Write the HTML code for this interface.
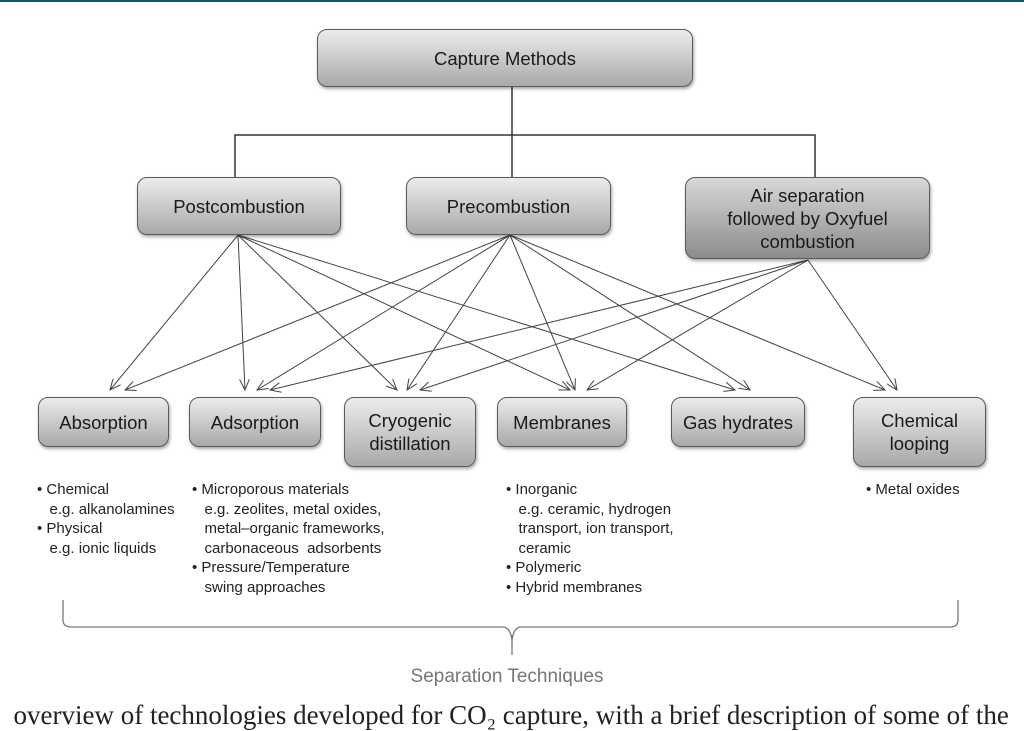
<!DOCTYPE html>
<html><head><meta charset="utf-8"><style>
html,body{margin:0;padding:0;background:#fff;}
body{width:1024px;height:720px;position:relative;overflow:hidden;font-family:"Liberation Sans",sans-serif;}
.b{position:absolute;box-sizing:border-box;border:1.5px solid #5a5a5a;border-radius:10px;background:linear-gradient(#ececec,#a9a9a9);box-shadow:1px 2px 3px rgba(0,0,0,.35);display:flex;align-items:center;justify-content:center;text-align:center;font-size:18.5px;color:#1a1a1a;line-height:23px;}
.d{background:linear-gradient(#d8d8d8,#8c8c8c);}
.t{position:absolute;font-size:15px;line-height:19.5px;color:#222;white-space:pre;}
</style></head><body>
<div style="position:absolute;left:0;top:0;width:1024px;height:2px;background:#1d4e63"></div>
<svg width="1024" height="720" style="position:absolute;left:0;top:0">
<defs><marker id="a" markerWidth="12" markerHeight="10" refX="11" refY="5" orient="auto" markerUnits="userSpaceOnUse"><path d="M0,0 L11,5 L0,10" fill="none" stroke="#444" stroke-width="1"/></marker></defs>
<g stroke="#333" stroke-width="1.5" fill="none">
<path d="M512,87 V135 M235,177 V135 H815 V177 M512,135 V177"/>
</g>
<g stroke="#444" stroke-width="1" fill="none" marker-end="url(#a)">
<line x1="238" y1="235" x2="110" y2="390"/>
<line x1="238" y1="235" x2="245" y2="390"/>
<line x1="238" y1="235" x2="397" y2="390"/>
<line x1="238" y1="235" x2="570" y2="390"/>
<line x1="238" y1="235" x2="735" y2="390"/>
<line x1="510" y1="235" x2="125" y2="390"/>
<line x1="510" y1="235" x2="257" y2="390"/>
<line x1="510" y1="235" x2="407" y2="390"/>
<line x1="510" y1="235" x2="575" y2="390"/>
<line x1="510" y1="235" x2="750" y2="390"/>
<line x1="510" y1="235" x2="885" y2="390"/>
<line x1="808" y1="260" x2="270" y2="390"/>
<line x1="808" y1="260" x2="420" y2="390"/>
<line x1="808" y1="260" x2="587" y2="390"/>
<line x1="808" y1="260" x2="897" y2="390"/>
</g>
<path d="M63,600 V620 Q63,627 72,627 H503 Q510,627 512,640 Q514,627 521,627 H950 Q958,627 958,620 V600 M512,635 V655" stroke="#777" stroke-width="1.3" fill="none"/>
</svg>
<div class="b" style="left:317px;top:29px;width:376px;height:58px">Capture Methods</div>
<div class="b" style="left:137px;top:177px;width:204px;height:58px">Postcombustion</div>
<div class="b" style="left:406px;top:177px;width:205px;height:58px">Precombustion</div>
<div class="b d" style="left:685px;top:177px;width:245px;height:82px">Air separation<br>followed by Oxyfuel<br>combustion</div>
<div class="b" style="left:38px;top:397px;width:131px;height:50px">Absorption</div>
<div class="b" style="left:189px;top:397px;width:132px;height:50px">Adsorption</div>
<div class="b" style="left:344px;top:397px;width:132px;height:70px">Cryogenic<br>distillation</div>
<div class="b" style="left:497px;top:397px;width:130px;height:50px">Membranes</div>
<div class="b" style="left:671px;top:397px;width:134px;height:50px">Gas hydrates</div>
<div class="b" style="left:853px;top:397px;width:133px;height:70px">Chemical<br>looping</div>
<div class="t" style="left:37px;top:480px">• Chemical
   e.g. alkanolamines
• Physical
   e.g. ionic liquids</div>
<div class="t" style="left:192px;top:480px">• Microporous materials
   e.g. zeolites, metal oxides,
   metal–organic frameworks,
   carbonaceous  adsorbents
• Pressure/Temperature
   swing approaches</div>
<div class="t" style="left:506px;top:480px">• Inorganic
   e.g. ceramic, hydrogen
   transport, ion transport,
   ceramic
• Polymeric
• Hybrid membranes</div>
<div class="t" style="left:866px;top:480px">• Metal oxides</div>
<div style="position:absolute;left:0;width:1014px;top:666px;text-align:center;font-size:19px;color:#777">Separation Techniques</div>
<div style="position:absolute;left:0;top:700px;font-family:'Liberation Serif',serif;font-size:27px;color:#222;white-space:nowrap;">&nbsp;&nbsp;overview of technologies developed for CO₂ capture, with a brief description of some of the</div>
</body></html>
